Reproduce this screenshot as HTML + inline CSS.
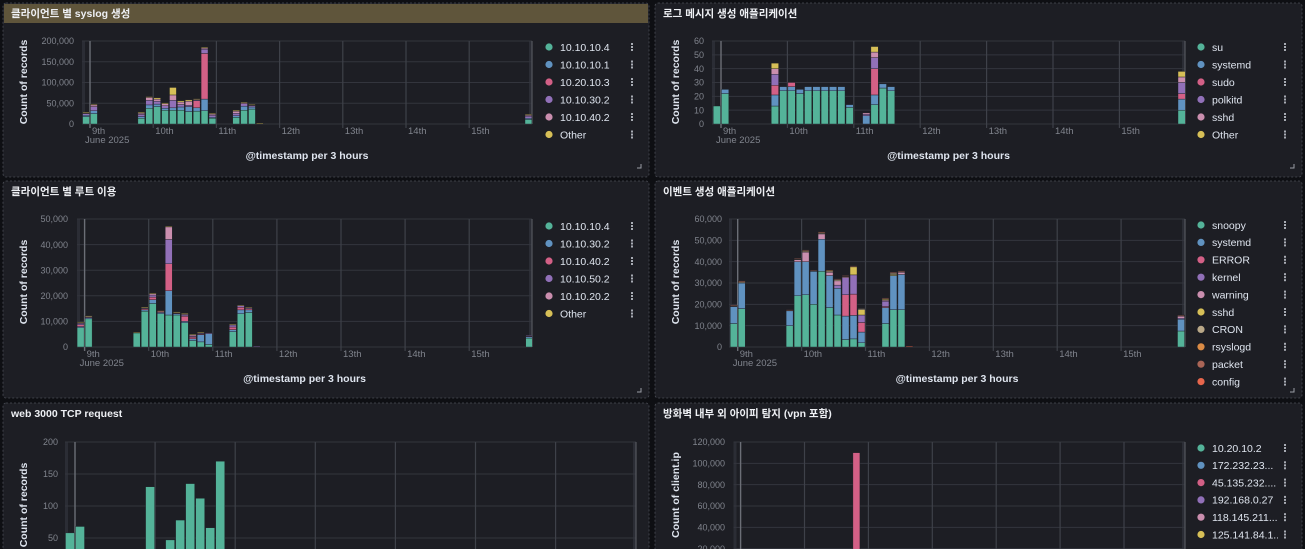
<!DOCTYPE html>
<html><head><meta charset="utf-8"><style>
html,body{margin:0;padding:0;background:#0e0f13;width:1305px;height:549px;overflow:hidden}
svg{display:block;font-family:"Liberation Sans","Noto Sans CJK KR",sans-serif}
</style></head><body>
<svg id="dash" width="1305" height="549" viewBox="0 0 1305 549" xmlns="http://www.w3.org/2000/svg"></svg>
<script>
// ---------- Panel 1: syslog per client ----------
const p1Bins = [-1,0,6,7,8,9,10,11,12,13,14,15,18,19,20,21,55];
const p1Names = ["10.10.10.4","10.10.10.1","10.20.10.3","10.10.30.2","10.10.40.2","Other"];
const p1S0 = [18000,25000,14000,38000,42000,33000,33000,33000,30000,31000,32000,14000,16000,33000,36000,0,11000];
const p1S1 = [3000,7000,4000,8000,6000,5000,6000,8000,12000,8000,28000,2000,4000,10000,5000,0,3000];
const p1S2 = [0,0,0,0,0,0,0,0,0,17000,110000,0,0,0,0,0,0];
const p1S3 = [4000,10000,5000,11000,7000,6000,18000,6000,3000,2000,10000,5000,6000,6000,4000,0,5000];
const p1S4 = [2000,4000,3000,7000,5000,5000,13000,6000,10000,2000,3000,3000,5000,2000,1000,0,2000];
const p1S5 = [1000,2000,2000,2000,3000,2000,18000,3000,3000,1000,2000,2000,2000,2000,1000,2000,2000];
const p1Ticks = [0,50000,100000,150000,200000];

// ---------- Panel 2: log message apps ----------
const p2Bins = [-1,0,6,7,8,9,10,11,12,13,14,15,17,18,19,20,55];
const p2Names = ["su","systemd","sudo","polkitd","sshd","Other"];
const p2S0 = [13,22,13,24,24,22,24,24,24,24,24,12,0,14,26,24,10];
const p2S1 = [0,3,8,3,3,3,3,3,3,3,3,2,6,7,3,3,8];
const p2S2 = [0,0,7,0,3,0,0,0,0,0,0,0,0,19,0,0,4];
const p2S3 = [0,0,8,0,0,0,0,0,0,0,0,0,1,8,0,0,8];
const p2S4 = [0,0,4,0,0,0,0,0,0,0,0,0,1,4,0,0,4];
const p2S5 = [0,0,4,0,0,0,0,0,0,0,0,0,0,4,0,0,4];
const p2Ticks = [0,10,20,30,40,50,60];

// ---------- Panel 3: root usage per client ----------
const p3Bins = [-1,0,6,7,8,9,10,11,12,13,14,15,18,19,20,21,55];
const p3Names = ["10.10.10.4","10.10.30.2","10.10.40.2","10.10.50.2","10.10.20.2","Other"];
const p3S0 = [7500,11000,5500,14000,17000,13000,12500,12500,9500,2500,2000,1000,6000,13000,13500,0,3500];
const p3S1 = [500,500,0,500,1500,500,9500,500,500,700,2800,4300,800,1500,1000,0,500];
const p3S2 = [700,300,0,500,1000,500,10500,300,2000,700,300,0,1000,1000,500,0,300];
const p3S3 = [500,200,0,200,800,0,9500,200,500,300,300,200,800,800,500,300,200];
const p3S4 = [300,0,0,0,500,0,5000,0,300,500,0,0,300,0,0,0,0];
const p3S5 = [200,200,300,300,300,200,200,200,300,300,300,0,100,100,100,0,0];
const p3Ticks = [0,10000,20000,30000,40000,50000];

// ---------- Panel 4: event apps ----------
const p4Bins = [-1,0,6,7,8,9,10,11,12,13,14,15,18,19,20,21,55];
const p4Names = ["snoopy","systemd","ERROR","kernel","warning","sshd","CRON","rsyslogd","packet","config"];
const p4S0 = [11000,18000,10000,24000,24500,20000,35500,18500,15000,3500,3800,2000,11000,17500,17500,0,7500];
const p4S1 = [8000,12000,7000,16000,15500,15500,15000,15000,12500,11000,11000,5000,7500,16000,16500,0,5500];
const p4S2 = [0,0,0,0,0,0,0,0,0,10000,10000,4500,500,0,0,0,0];
const p4S3 = [0,0,0,0,0,0,0,0,1500,8000,9000,3500,2500,0,0,0,500];
const p4S4 = [0,0,0,1000,4500,0,2500,1500,2000,500,0,0,500,0,1000,0,1000];
const p4S5 = [0,0,0,0,0,0,0,0,0,0,3800,2500,500,500,0,0,0];
const p4S6 = [300,500,300,300,500,300,500,800,800,300,300,500,300,800,500,0,300];
const p4S7 = [100,300,100,100,200,100,200,100,100,100,100,0,100,100,100,0,100];
const p4S8 = [100,200,100,100,300,100,300,0,100,100,100,0,100,100,100,0,100];
const p4S9 = [0,0,0,0,0,0,0,0,0,0,0,0,0,0,0,300,0];
const p4Ticks = [0,10000,20000,30000,40000,50000,60000];

// ---------- Panel 5: web 3000 TCP ----------
const p5Bins = [-1,0,7,9,10,11,12,13,14];
const p5S0 = [58,68,130,47,78,135,112,66,170];
const p5Ticks = [50,100,150,200];

// ---------- Panel 6: external IPs ----------
const p6Bins = [14];
const p6Names = ["10.20.10.2","172.232.23...","45.135.232....","192.168.0.27","118.145.211...","125.141.84.1..."];
const p6S0 = [0];
const p6S1 = [0];
const p6S2 = [110000];
const p6S3 = [0];
const p6S4 = [0];
const p6S5 = [0];
const p6Ticks = [20000,40000,60000,80000,100000,120000];

const PAL = ["#54b399","#6092c0","#d36086","#9170b8","#ca8eae","#d6bf57","#b9a888","#da8b45","#aa6556","#e7664c"];
const NS = "http://www.w3.org/2000/svg";
const root = document.getElementById('dash');
function mk(tag, attrs, parent, text){
  const e = document.createElementNS(NS, tag);
  for (const k in attrs) e.setAttribute(k, attrs[k]);
  if (text !== undefined) e.textContent = text;
  (parent || root).appendChild(e);
  return e;
}
function fmt(v){ return v.toLocaleString('en-US'); }

function panel(x,y,w,h,title,name,selected){
  const g = mk('g',{});
  
  
  mk('rect',{x:x,y:y,width:w,height:h,rx:3,fill:'#1d1e24',stroke:'#4a4d55','stroke-width':0.8,'stroke-dasharray':'2,2'},g);
  if (selected){
    mk('rect',{x:x+1,y:y+1,width:w-2,height:19,fill:'#5f553b'},g);
  }
  const t = mk('text',{x:x+8,y:y+14,fill:'#eef0f4','font-size':10.5,'font-weight':'bold'},g,title);
  
  
  return g;
}

function chart(c){
  const g = mk('g',{});
  
  
  const binW = c.dayW / 8;
  const xs = b => c.day9 + b * binW;
  const ys = v => c.bottom - (v / c.yMax) * (c.bottom - c.top);
  const cid = 'clip' + c.name;
  const cp = mk('clipPath',{id:cid},g);
  mk('rect',{x:c.left,y:c.top-2,width:c.right-c.left,height:Math.min(c.bottom,549)-c.top+2},cp);
  mk('rect',{x:c.left,y:c.top,width:3,height:c.bottom-c.top,fill:'#2b2d35'},g);
  mk('rect',{x:c.right-3,y:c.top,width:3,height:c.bottom-c.top,fill:'#2b2d35'},g);
  c.ticks.forEach(v=>{
    const yy = ys(v);
    mk('line',{x1:c.left,x2:c.right,y1:yy,y2:yy,stroke:'#33353d','stroke-width':1},g);
    const t = mk('text',{x:c.tickX,y:yy+3.2,fill:'#80848d','font-size':9,'text-anchor':'end'},g,fmt(v));
    
    
  });
  const days = ["9th","10th","11th","12th","13th","14th","15th"];
  days.forEach((d,i)=>{
    const xx = c.day9 + i*c.dayW;
    mk('line',{x1:xx,x2:xx,y1:c.top,y2:Math.min(c.bottom,549)+(c.noX?0:4),stroke:i===0?'#6b6e76':'#3e4149','stroke-width':i===0?1.4:1.2},g);
    if (!c.noX){
      const t = mk('text',{x:xx+2,y:c.bottom+10,fill:'#80848d','font-size':9.5},g,d);
      
      
    }
  });
  mk('line',{x1:c.right,x2:c.right,y1:c.top,y2:Math.min(c.bottom,549),stroke:'#55585f','stroke-width':1.2},g);
  if (!c.noX){
    const t = mk('text',{x:c.day9-5,y:c.bottom+19,fill:'#80848d','font-size':9.5},g,'June 2025');
    
    
    const at = mk('text',{x:(c.left+c.right)/2,y:c.bottom+35,fill:'#dfe5ef','font-size':10.5,'font-weight':'bold','text-anchor':'middle'},g,'@timestamp per 3 hours');
    
    
  }
  const yt = mk('text',{x:0,y:0,fill:'#dfe5ef','font-size':10.5,'font-weight':'bold','text-anchor':'middle',
    transform:'translate('+(c.ytx)+','+c.yty+') rotate(-90)'},g,c.yTitle);
  
  
  const bg = mk('g',{'clip-path':'url(#'+cid+')'},g);
  c.bins.forEach((b,i)=>{
    let acc = 0;
    c.series.forEach((s,si)=>{
      const v = s[i];
      if (!v) return;
      const y0 = ys(acc), y1 = ys(acc+v);
      acc += v;
      const r = mk('rect',{x:xs(b)+0.5,y:y1,width:binW-1,height:Math.max(y0-y1,0.8),fill:PAL[si],stroke:'#1d1e24','stroke-width':0.4},bg);
      
      
    });
  });
  if (c.names){
    const lcid = 'lclip' + c.name;
    const lcp = mk('clipPath',{id:lcid},g);
    mk('rect',{x:c.legX,y:0,width:c.menuX-c.legX-6,height:549},lcp);
    c.names.forEach((n,i)=>{
      const ly = c.legY + i*c.legStep;
      const lg = mk('g',{},g);
      
      
      mk('circle',{cx:c.legX,cy:ly,r:3.6,fill:PAL[i]},lg);
      mk('text',{x:c.legX+11,y:ly+3.8,fill:'#dfe5ef','font-size':10.5,'clip-path':'url(#'+lcid+')'},lg,n);
      const m = mk('g',{},lg);
      
      
      for (let k=-1;k<=1;k++) mk('rect',{x:c.menuX,y:ly+k*3-1,width:2,height:2,fill:'#a7abb3'},m);
    });
  }
  if (c.corner){
    mk('path',{d:'M'+(c.corner[0])+' '+(c.corner[1]-4)+' V'+c.corner[1]+' H'+(c.corner[0]-4),stroke:'#9a9ea6',fill:'none','stroke-width':1},g);
  }
}

panel(3,3,646,174,'클라이언트 별 syslog 생성','panel-syslog-by-client',true);
panel(655,3,647,174,'로그 메시지 생성 애플리케이션','panel-log-message-apps',false);
panel(3,181,646,217,'클라이언트 별 루트 이용','panel-root-usage',false);
panel(655,181,647,217,'이벤트 생성 애플리케이션','panel-event-apps',false);
panel(3,403,646,150,'web 3000 TCP request','panel-web-tcp',false);
panel(655,403,647,150,'방화벽 내부 외 아이피 탐지 (vpn 포함)','panel-external-ip',false);

chart({name:'p1',left:82,right:532,top:41,bottom:124,day9:90,dayW:63.2,yMax:200000,ticks:p1Ticks,tickX:74,
  bins:p1Bins,series:[p1S0,p1S1,p1S2,p1S3,p1S4,p1S5],names:p1Names,legX:549,legY:47,legStep:17.5,menuX:631,
  yTitle:'Count of records',ytx:27,yty:82,corner:[641,168]});
chart({name:'p2',left:712,right:1185,top:41,bottom:124,day9:721,dayW:66.4,yMax:60,ticks:p2Ticks,tickX:704,
  bins:p2Bins,series:[p2S0,p2S1,p2S2,p2S3,p2S4,p2S5],names:p2Names,legX:1201,legY:47,legStep:17.5,menuX:1284,
  yTitle:'Count of records',ytx:679,yty:82,corner:[1294,168]});
chart({name:'p3',left:77,right:532,top:219,bottom:347,day9:84.6,dayW:64.1,yMax:50000,ticks:p3Ticks,tickX:68,
  bins:p3Bins,series:[p3S0,p3S1,p3S2,p3S3,p3S4,p3S5],names:p3Names,legX:549,legY:226,legStep:17.5,menuX:631,
  yTitle:'Count of records',ytx:27,yty:282,corner:[641,392]});
chart({name:'p4',left:729,right:1185,top:219,bottom:347,day9:737.7,dayW:63.9,yMax:60000,ticks:p4Ticks,tickX:722,
  bins:p4Bins,series:[p4S0,p4S1,p4S2,p4S3,p4S4,p4S5,p4S6,p4S7,p4S8,p4S9],names:p4Names,legX:1201,legY:225,legStep:17.4,menuX:1284,
  yTitle:'Count of records',ytx:679,yty:282,corner:[1294,392]});
chart({name:'p5',left:65,right:636,top:442,bottom:570,day9:75,dayW:80.1,yMax:200,ticks:p5Ticks,noX:true,tickX:58,
  bins:p5Bins,series:[p5S0],names:null,yTitle:'Count of records',ytx:27,yty:505});
chart({name:'p6',left:733.5,right:1185,top:442,bottom:570,day9:740.6,dayW:63.9,yMax:120000,ticks:p6Ticks,noX:true,tickX:725,
  bins:p6Bins,series:[p6S0,p6S1,p6S2,p6S3,p6S4,p6S5],names:p6Names,legX:1201,legY:448,legStep:17.3,menuX:1284,
  yTitle:'Count of client.ip',ytx:679,yty:495});
</script>
</body></html>
